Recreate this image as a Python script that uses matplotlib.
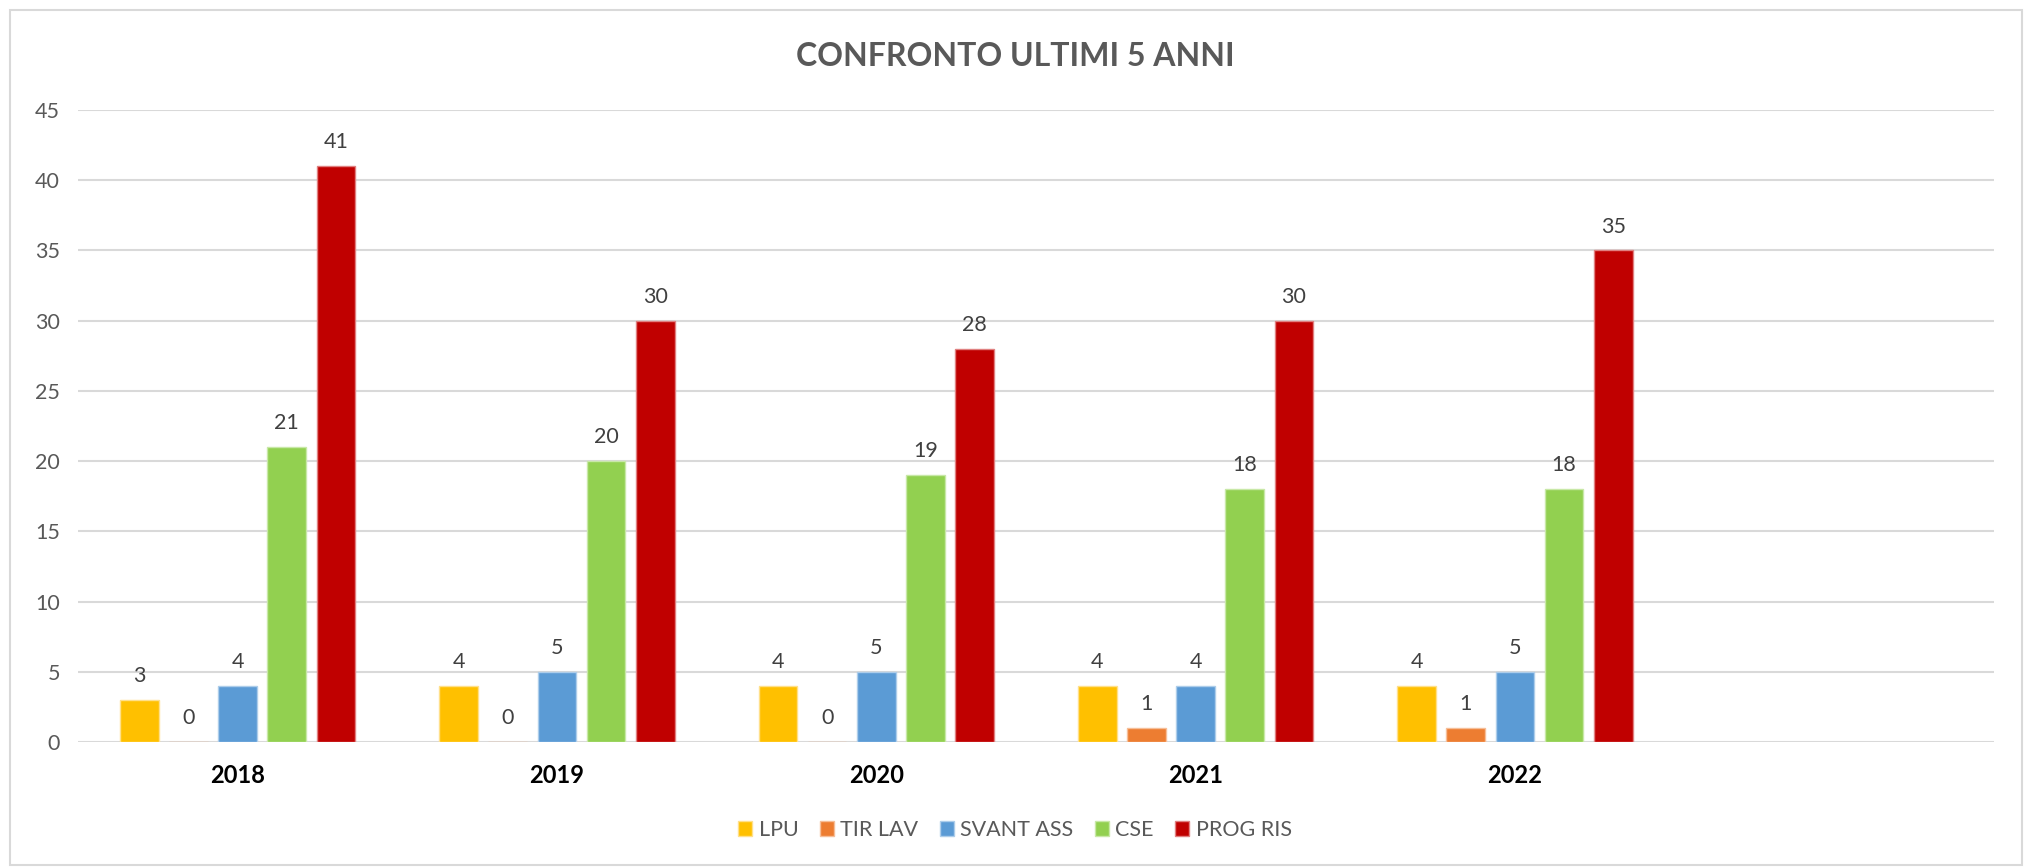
#!/usr/bin/env python3
"""Grouped bar chart: CONFRONTO ULTIMI 5 ANNI."""
import numpy as np
import matplotlib
matplotlib.use('Agg')
import matplotlib.pyplot as plt
from matplotlib.patches import Rectangle

plt.rcParams['font.family'] = ['Lato', 'DejaVu Sans']

# ── data ────────────────────────────────────────────────────────────────────
years = ['2018', '2019', '2020', '2021', '2022']
series = ['LPU', 'TIR LAV', 'SVANT ASS', 'CSE', 'PROG RIS']
lpu = [3, 4, 4, 4, 4]
tir_lav = [0, 0, 0, 1, 1]
svant_ass = [4, 5, 5, 4, 5]
cse = [21, 20, 19, 18, 18]
prog_ris = [41, 30, 28, 30, 35]
values = [lpu, tir_lav, svant_ass, cse, prog_ris]
colors = ['#FFC000', '#ED7D31', '#5B9BD5', '#92D050', '#C00000']
edges = ['#FFE08A', '#F6BE98', '#ADCDEA', '#C8E8A7', '#E08080']

# ── plot ────────────────────────────────────────────────────────────────────
fig = plt.figure(figsize=(20.3, 8.67), dpi=100)
fig.patches.append(Rectangle((10 / 2030, 2 / 867), 2012 / 2030, 855 / 867,
                             transform=fig.transFigure, fill=False,
                             edgecolor='#D9D9D9', lw=1.5))
ax = fig.add_axes([0.0384, 0.1442, 0.9438, 0.7289])

x = np.arange(len(years))
step, width = 0.154, 0.121
for i, (name, vals) in enumerate(zip(series, values)):
    bars = ax.bar(x + (i - 2) * step, vals, width, color=colors[i],
                  edgecolor=edges[i], linewidth=1.0, label=name, zorder=3)
    ax.bar_label(bars, padding=10, fontsize=15.5, color='#404040')

ax.set_xlim(-0.5, 5.5)
ax.set_ylim(0, 45)
ax.set_yticks(np.arange(0, 46, 5))
ax.set_xticks(x)
ax.set_xticklabels(years, fontsize=17, fontweight='bold', color='black')
ax.tick_params(axis='x', length=0, pad=16)
ax.tick_params(axis='y', length=0, pad=13, labelsize=15.5, labelcolor='#595959')
ax.grid(axis='y', color='#D9D9D9', lw=1.5, zorder=0)
for s in ax.spines.values():
    s.set_visible(False)

fig.text(0.5, 1 - 56 / 867, 'CONFRONTO ULTIMI 5 ANNI', ha='center', va='center',
         fontsize=23, fontweight='bold', color='#595959')

fig.legend(loc='center', bbox_to_anchor=(0.5, 1 - 830 / 867), ncol=5,
           frameon=False, fontsize=15.5, handlelength=0.65, handleheight=0.65,
           handletextpad=0.3, columnspacing=1.0, labelcolor='#595959')

fig.savefig('out.png', dpi=100)
